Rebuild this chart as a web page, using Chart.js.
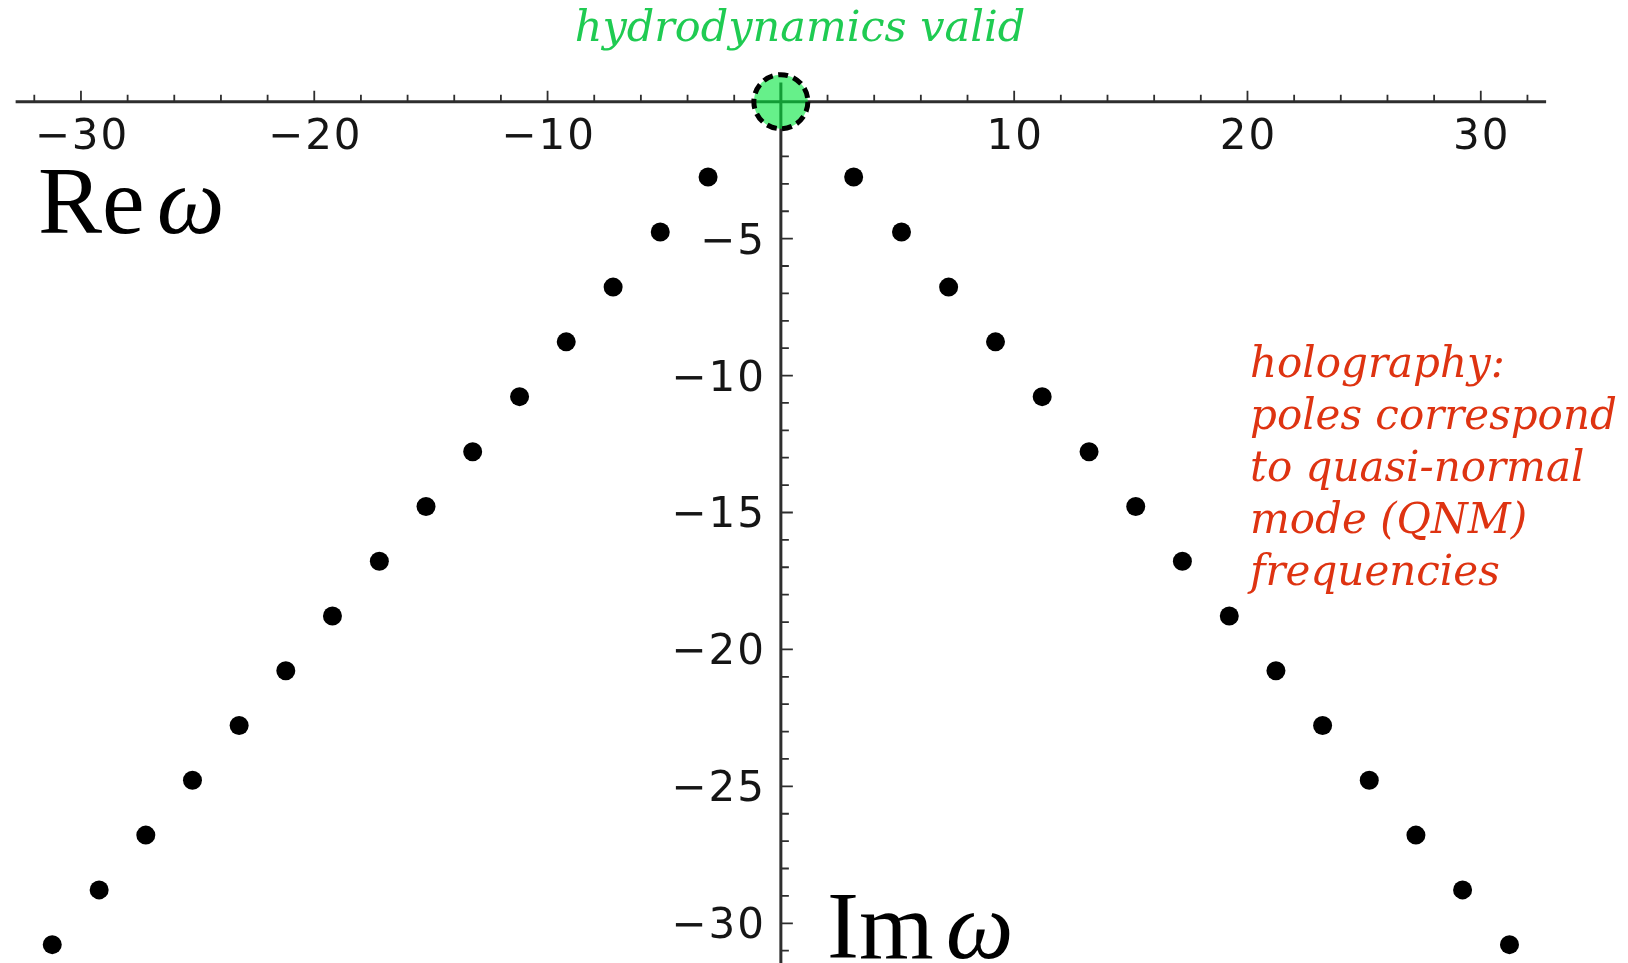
<!DOCTYPE html>
<html>
<head>
<meta charset="utf-8">
<script src="https://cdn.jsdelivr.net/npm/chart.js@4.4.0/dist/chart.umd.min.js"></script>
<style>
  html, body { margin: 0; padding: 0; background: #fff; }
  canvas { display: block; }
</style>
</head>
<body>
<canvas id="qnm" width="1628" height="963"></canvas>
<script>
// quasi-normal mode frequencies (omega / pi T), right and left branches
var reRight = [3.12, 5.17, 7.19, 9.20, 11.20, 13.21, 15.21, 17.21, 19.22, 21.22, 23.22, 25.22, 27.22, 29.22, 31.23]
var imRight = [-2.75, -4.76, -6.77, -8.77, -10.77, -12.78, -14.78, -16.78, -18.78, -20.78, -22.78, -24.78, -26.78, -28.78, -30.78]
var reLeft = [-3.12, -5.17, -7.19, -9.20, -11.20, -13.21, -15.21, -17.21, -19.22, -21.22, -23.22, -25.22, -27.22, -29.22, -31.23]
var imLeft = [-2.75, -4.76, -6.77, -8.77, -10.77, -12.78, -14.78, -16.78, -18.78, -20.78, -22.78, -24.78, -26.78, -28.78, -30.78]

// hydrodynamic pole sits at the origin
var hydroRe = [0]
var hydroIm = [0]

var xTickLabels = [-30, -20, -10, 10, 20, 30]
var yTickLabels = [-5, -10, -15, -20, -25, -30]

function pairs(xs, ys) {
  return xs.map(function (x, i) { return { x: x, y: ys[i] } })
}

function minusSign(v) {
  return v < 0 ? '\u2212' + (-v) : String(v)
}

// axes crossing at the origin, Mathematica style ticks
var crossAxes = {
  id: 'crossAxes',
  beforeDatasetsDraw: function (chart) {
    var ctx = chart.ctx
    var xs = chart.scales.x
    var ys = chart.scales.y
    var x0 = xs.getPixelForValue(0)
    var y0 = ys.getPixelForValue(0)
    ctx.save()
    ctx.strokeStyle = '#2e2e2e'
    ctx.lineWidth = 3
    ctx.beginPath()
    ctx.moveTo(xs.getPixelForValue(-32.8), y0)
    ctx.lineTo(xs.getPixelForValue(32.8), y0)
    ctx.moveTo(x0, ys.getPixelForValue(0.7))
    ctx.lineTo(x0, chart.chartArea.bottom)
    ctx.stroke()

    ctx.lineWidth = 1.8
    ctx.beginPath()
    for (var v = -32; v <= 32; v += 2) {
      if (v === 0) continue
      var px = xs.getPixelForValue(v)
      var len = v % 10 === 0 ? 11 : 7
      ctx.moveTo(px, y0)
      ctx.lineTo(px, y0 - len)
    }
    for (var w = -1; w >= -31; w--) {
      var py = ys.getPixelForValue(w)
      var len2 = w % 5 === 0 ? 12 : 8
      ctx.moveTo(x0, py)
      ctx.lineTo(x0 + len2, py)
    }
    ctx.stroke()

    ctx.fillStyle = '#151515'
    ctx.font = '42px "DejaVu Sans"'
    ctx.letterSpacing = '2px'
    ctx.textAlign = 'center'
    ctx.textBaseline = 'alphabetic'
    xTickLabels.forEach(function (t) {
      ctx.fillText(minusSign(t), xs.getPixelForValue(t) + 1, y0 + 47)
    })
    ctx.textAlign = 'right'
    yTickLabels.forEach(function (t) {
      ctx.fillText(minusSign(t), x0 - 15, ys.getPixelForValue(t) + 15)
    })
    ctx.letterSpacing = '0px'
    ctx.restore()
  },
  afterDatasetsDraw: function (chart) {
    var ctx = chart.ctx
    ctx.save()

    // dashed ring round the hydro pole
    var pole = chart.getDatasetMeta(2).data[0]
    ctx.strokeStyle = '#000'
    ctx.lineWidth = 5
    ctx.setLineDash([10, 5.5])
    ctx.beginPath()
    ctx.arc(pole.x, pole.y, 27, 0, Math.PI * 2)
    ctx.stroke()
    ctx.setLineDash([])

    ctx.textBaseline = 'alphabetic'
    ctx.fillStyle = '#1fcb52'
    ctx.font = 'italic 43px "DejaVu Serif"'
    ctx.textAlign = 'center'
    ctx.fillText('hydrodynamics valid', 800, 41)

    ctx.fillStyle = '#de3311'
    ctx.font = 'italic 42px "DejaVu Serif"'
    ctx.textAlign = 'left'
    var lines = ['holography:', 'poles correspond', 'to quasi-normal', 'mode (QNM)', 'frequencies']
    lines.forEach(function (s, i) {
      ctx.fillText(s, 1250, 377 + i * 52)
    })

    ctx.fillStyle = '#000'
    ctx.font = '96px "Liberation Serif"'
    ctx.fillText('Re', 38, 233)
    var w1 = ctx.measureText('Re').width
    ctx.fillText('Im', 827, 958)
    var w2 = ctx.measureText('Im').width
    ctx.font = 'italic 96px "Liberation Serif"'
    ctx.fillText('\u03c9', 38 + w1 + 12, 233)
    ctx.fillText('\u03c9', 827 + w2 + 12, 958)
    ctx.restore()
  }
}

var chart = new Chart(document.getElementById('qnm').getContext('2d'), {
  type: 'scatter',
  data: {
    datasets: [{
      label: 'QNM right',
      data: pairs(reRight, imRight),
      backgroundColor: '#000',
      borderWidth: 0,
      pointRadius: 9.5
    }, {
      label: 'QNM left',
      data: pairs(reLeft, imLeft),
      backgroundColor: '#000',
      borderWidth: 0,
      pointRadius: 9.5
    }, {
      label: 'hydro',
      data: pairs(hydroRe, hydroIm),
      backgroundColor: 'rgba(0, 230, 60, 0.6)',
      borderWidth: 0,
      pointRadius: 27
    }]
  },
  options: {
    responsive: false,
    animation: false,
    events: [],
    layout: { padding: 0, autoPadding: false },
    plugins: { legend: { display: false }, tooltip: { enabled: false } },
    scales: {
      x: { type: 'linear', min: -33.47, max: 36.31, display: false },
      y: { type: 'linear', min: -31.45, max: 3.713, display: false }
    }
  },
  plugins: [crossAxes]
})
</script>
</body>
</html>
